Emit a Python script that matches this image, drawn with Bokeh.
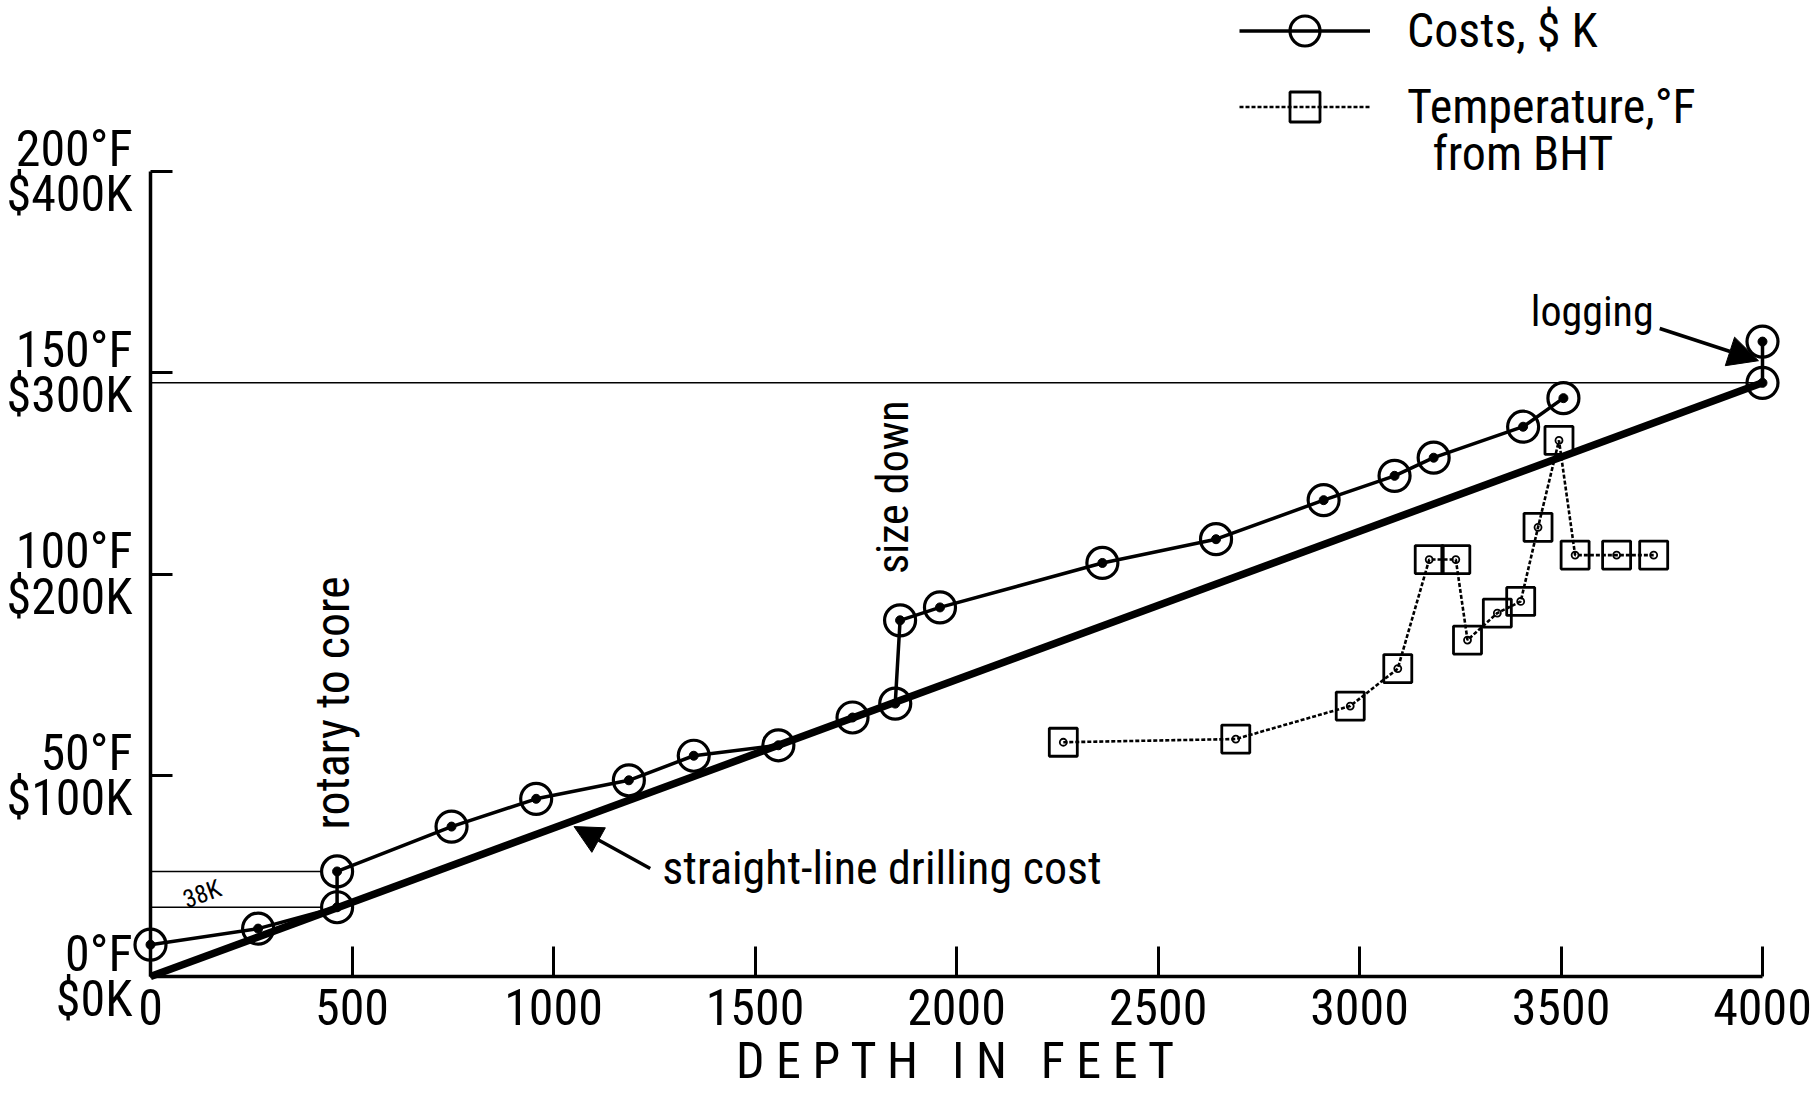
import math
from bokeh.plotting import figure
from bokeh.models import (Range1d, FixedTicker, CustomJSTickFormatter, Label, Arrow,
                          NormalHead, Legend, LegendItem, ColumnDataSource)
from bokeh.core.properties import value
from bokeh.embed import file_html
from bokeh.resources import INLINE

# ---------------- data ----------------
cost_depth_ft = [0, 267, 463, 463, 747, 957, 1187, 1348, 1558, 1742, 1848, 1860,
                 1959, 2362, 2644, 2911, 3087, 3184, 3406, 3506]
cost_k = [15.8, 23.8, 34.4, 52.2, 74.5, 88.3, 97.5, 109.7, 114.9, 128.7, 135.6, 177.0,
          183.4, 205.5, 217.3, 236.7, 248.8, 257.8, 273.2, 287.4]

logging_depth_ft = [4000, 4000]
logging_cost_k = [295.0, 315.5]

straight_depth_ft = [0, 4000]
straight_cost_k = [0.0, 295.0]

temp_depth_ft = [2265, 2693, 2977, 3095, 3173, 3239, 3268, 3342, 3400, 3443, 3495,
                 3535, 3638, 3730]
temp_f = [58.2, 59.0, 67.2, 76.5, 103.6, 103.6, 83.6, 90.3, 93.2, 111.6, 133.2,
          104.7, 104.7, 104.7]

x_ticks = [0, 500, 1000, 1500, 2000, 2500, 3000, 3500, 4000]
y_ticks_k = [0, 100, 200, 300, 400]

FONT = "Roboto Condensed, DejaVu Sans Condensed, Liberation Sans"

p = figure(width=1816, height=1094, output_backend="svg", toolbar_location=None,
           x_range=Range1d(0, 4000), y_range=Range1d(0, 485),
           min_border_left=150, min_border_right=54, min_border_top=0,
           min_border_bottom=118)
p.extra_y_ranges = {"temp": Range1d(0, 242.5)}
p.grid.visible = False
p.outline_line_color = None
p.background_fill_color = "white"
p.border_fill_color = "white"

# axes
for ax in (p.xaxis[0], p.yaxis[0]):
    ax.axis_line_width = 3.5
    ax.axis_line_color = "black"
    ax.major_tick_line_width = 3
    ax.major_tick_line_color = "black"
    ax.major_tick_out = 0
    ax.minor_tick_line_color = None
    ax.major_label_text_font = FONT
    ax.major_label_text_color = "black"

p.xaxis.ticker = FixedTicker(ticks=x_ticks)
p.xaxis.major_tick_in = 30
p.xaxis.major_label_text_font_size = "50px"
p.xaxis.major_label_standoff = 12

p.yaxis.ticker = FixedTicker(ticks=y_ticks_k)
p.yaxis.bounds = (y_ticks_k[0], y_ticks_k[-1])
p.yaxis.major_tick_in = 22
p.yaxis.major_label_text_font_size = "50px"
p.yaxis.major_label_standoff = 18
p.yaxis.major_label_text_line_height = 0.78
p.yaxis.formatter = CustomJSTickFormatter(
    code="return (tick / 2) + '\u00b0F\\n$' + tick + 'K';")

# reference lines
guide_top = p.segment(x0=[0], y0=[straight_cost_k[-1]], x1=[straight_depth_ft[-1]],
                      y1=[straight_cost_k[-1]], line_width=1.5, color="black")
guide_38 = p.segment(x0=[0, 0], y0=[cost_k[2], cost_k[3]],
                     x1=[cost_depth_ft[2] - 38, cost_depth_ft[3] - 38],
                     y1=[cost_k[2], cost_k[3]], line_width=1.5, color="black")

# straight-line drilling cost
straight = p.line(straight_depth_ft, straight_cost_k, line_width=7.5, color="black")

# costs
src_cost = ColumnDataSource(dict(x=cost_depth_ft, y=cost_k))
src_log = ColumnDataSource(dict(x=logging_depth_ft, y=logging_cost_k))
cost_line = p.line("x", "y", source=src_cost, line_width=3.5, color="black")
log_line = p.line("x", "y", source=src_log, line_width=3.5, color="black")
cost_circ = p.scatter("x", "y", source=src_cost, marker="circle", size=31,
                      fill_color=None, line_color="black", line_width=3.2)
log_circ = p.scatter("x", "y", source=src_log, marker="circle", size=31,
                     fill_color=None, line_color="black", line_width=3.2)
cost_dot = p.scatter("x", "y", source=src_cost, marker="circle", size=9,
                     fill_color="black", line_color="black")
log_dot = p.scatter("x", "y", source=src_log, marker="circle", size=9,
                    fill_color="black", line_color="black")

# temperature (own scale: 0 F at $0K, 200 F at $400K)
src_temp = ColumnDataSource(dict(x=temp_depth_ft, y=temp_f))
temp_line = p.line("x", "y", source=src_temp, y_range_name="temp", line_width=2.6,
                   color="black", line_dash="4 2")
temp_sq = p.scatter("x", "y", source=src_temp, y_range_name="temp", marker="square",
                    size=28, fill_color=None, line_color="black", line_width=2.8)
temp_dot = p.scatter("x", "y", source=src_temp, y_range_name="temp", marker="circle",
                     size=7, fill_color=None, line_color="black", line_width=1.8)

# axis title below the frame (glyph at overlay level so that it is not clipped)
mid_x = (x_ticks[0] + x_ticks[-1]) / 2
depth_title = p.text(x=[mid_x], y=[-42], text=["D E P T H \u2002I N \u2002F E E T"],
                     text_font=value(FONT), text_font_size="50px",
                     text_align="center", text_baseline="middle", text_color="black")

for r in (guide_top, guide_38, straight, cost_line, log_line, cost_circ, log_circ,
          cost_dot, log_dot, temp_line, temp_sq, temp_dot, depth_title):
    r.level = "overlay"

# annotations
def txt(x, y, s, size="50px", angle=0.0, align="left", baseline="alphabetic"):
    p.add_layout(Label(x=x, y=y, text=s, angle=angle, text_font=FONT,
                       text_font_size=size, text_align=align, text_baseline=baseline,
                       text_color="black"))

txt(451, 73, "rotary to core", size="48px", angle=math.pi / 2)
txt(1842, 200, "size down", size="44px", angle=math.pi / 2)
txt(1270, 54.1, "straight-line drilling cost", size="46px")
txt(3425, 330.4, "logging", size="42px")
txt(128, 41, "38K", size="25px", angle=0.35, align="center", baseline="middle")
txt(3181, 409, "from BHT", size="48px", baseline="middle")

p.add_layout(Arrow(end=NormalHead(size=28, fill_color="black", line_color="black"),
                   x_start=1240, y_start=53.7, x_end=1051, y_end=74.5,
                   line_width=3.5, line_color="black"))
p.add_layout(Arrow(end=NormalHead(size=30, fill_color="black", line_color="black"),
                   x_start=3745, y_start=322, x_end=3990, y_end=306,
                   line_width=3.5, line_color="black"))

legend = Legend(items=[
    LegendItem(label="Costs, $ K", renderers=[cost_line, cost_circ]),
    LegendItem(label="Temperature,\u00b0F", renderers=[temp_line, temp_sq]),
], location=(1089, 832), glyph_width=131, glyph_height=75,
    label_text_font=FONT, label_text_font_size="48px", label_text_color="black",
    border_line_color=None, background_fill_alpha=0, padding=0, margin=0, spacing=1,
    label_standoff=37)
p.add_layout(legend)

open("out.html", "w").write(file_html(p, INLINE))
